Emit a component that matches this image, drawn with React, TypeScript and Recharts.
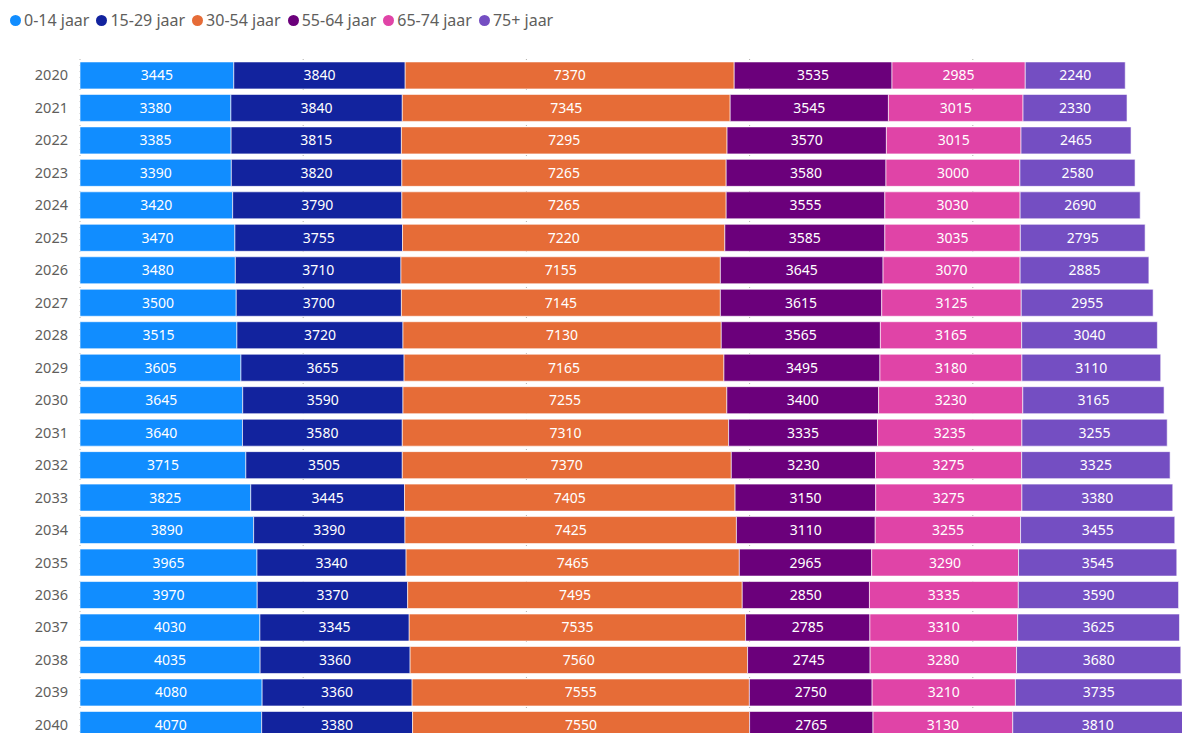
import React from 'react';
import { BarChart, Bar, XAxis, YAxis, CartesianGrid, LabelList } from 'recharts';

const years = ['2020', '2021', '2022', '2023', '2024', '2025', '2026', '2027', '2028', '2029', '2030',
  '2031', '2032', '2033', '2034', '2035', '2036', '2037', '2038', '2039', '2040'];

const age0to14 = [3445, 3380, 3385, 3390, 3420, 3470, 3480, 3500, 3515, 3605, 3645,
  3640, 3715, 3825, 3890, 3965, 3970, 4030, 4035, 4080, 4070];
const age15to29 = [3840, 3840, 3815, 3820, 3790, 3755, 3710, 3700, 3720, 3655, 3590,
  3580, 3505, 3445, 3390, 3340, 3370, 3345, 3360, 3360, 3380];
const age30to54 = [7370, 7345, 7295, 7265, 7265, 7220, 7155, 7145, 7130, 7165, 7255,
  7310, 7370, 7405, 7425, 7465, 7495, 7535, 7560, 7555, 7550];
const age55to64 = [3535, 3545, 3570, 3580, 3555, 3585, 3645, 3615, 3565, 3495, 3400,
  3335, 3230, 3150, 3110, 2965, 2850, 2785, 2745, 2750, 2765];
const age65to74 = [2985, 3015, 3015, 3000, 3030, 3035, 3070, 3125, 3165, 3180, 3230,
  3235, 3275, 3275, 3255, 3290, 3335, 3310, 3280, 3210, 3130];
const age75plus = [2240, 2330, 2465, 2580, 2690, 2795, 2885, 2955, 3040, 3110, 3165,
  3255, 3325, 3380, 3455, 3545, 3590, 3625, 3680, 3735, 3810];

const xTicks = [0, 5000, 10000, 15000, 20000, 25000];

const series = [
  { key: 'a', name: '0-14 jaar', values: age0to14, color: '#118DFF' },
  { key: 'b', name: '15-29 jaar', values: age15to29, color: '#12239E' },
  { key: 'c', name: '30-54 jaar', values: age30to54, color: '#E66C37' },
  { key: 'd', name: '55-64 jaar', values: age55to64, color: '#6B007B' },
  { key: 'e', name: '65-74 jaar', values: age65to74, color: '#E044A7' },
  { key: 'f', name: '75+ jaar', values: age75plus, color: '#744EC2' },
];

const data = years.map((year, i) => {
  const row: Record<string, string | number> = { year };
  series.forEach((s) => { row[s.key] = s.values[i]; });
  return row;
});

const font = '"Noto Sans", "Open Sans", sans-serif';

export default function App() {
  return (
    <div style={{ position: 'absolute', left: 0, top: 0, width: 1182, height: 733, overflow: 'hidden', background: '#fff', fontFamily: font }}>
      {/* legend */}
      <div style={{ position: 'absolute', left: 10, top: 9, display: 'flex', alignItems: 'center', fontSize: 16, color: '#605E5C' }}>
        {series.map((s) => (
          <div key={s.key} style={{ display: 'flex', alignItems: 'center', marginRight: 7 }}>
            <span style={{ width: 11, height: 11, borderRadius: '50%', background: s.color, display: 'inline-block', marginRight: 3 }} />
            <span>{s.name}</span>
          </div>
        ))}
      </div>
      <BarChart
        width={1210}
        height={750}
        data={data}
        layout="vertical"
        barCategoryGap="9%"
        margin={{ top: 59, right: 14, bottom: 9, left: 0 }}
        style={{ position: 'absolute', left: 0, top: 0 }}
      >
        <CartesianGrid horizontal={false} stroke="#B3B0AD" strokeDasharray="1 5" />
        <XAxis type="number" domain={[0, 25000]} ticks={xTicks} hide />
        <YAxis
          type="category"
          dataKey="year"
          width={80}
          tickLine={false}
          axisLine={false}
          tickSize={0}
          tickMargin={12}
          tick={{ fill: '#605E5C', fontSize: 14.5, fontFamily: font }}
        />
        {series.map((s) => (
          <Bar key={s.key} dataKey={s.key} name={s.name} stackId="x" fill={s.color} stroke="#ffffff" strokeOpacity={0.6} strokeWidth={1} isAnimationActive={false}>
            <LabelList dataKey={s.key} position="center" fill="#ffffff" fontSize={14} fontFamily={font} />
          </Bar>
        ))}
      </BarChart>
    </div>
  );
}
